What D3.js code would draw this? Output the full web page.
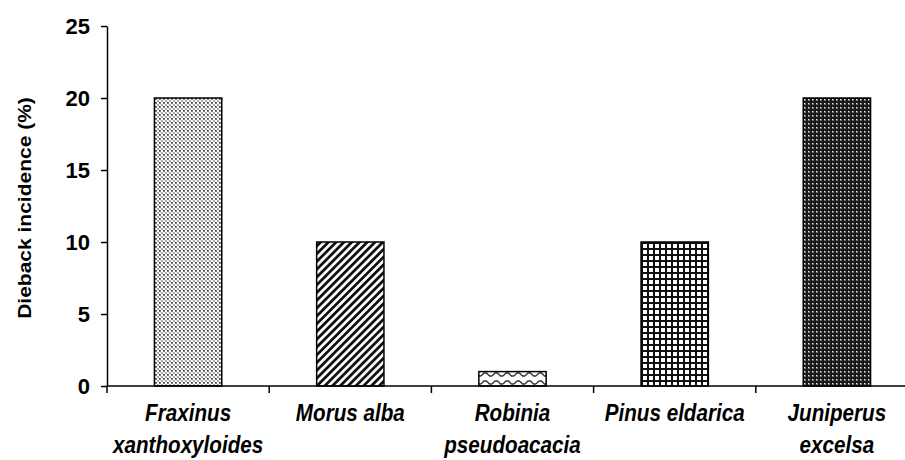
<!DOCTYPE html>
<html>
<head>
<meta charset="utf-8">
<script src="https://cdn.jsdelivr.net/npm/d3@7"></script>
<style>
  body { margin: 0; background: #fff; }
  svg text { font-family: "Liberation Sans", Arial, sans-serif; font-weight: bold; fill: #000; }
</style>
</head>
<body>
<svg id="chart" width="905" height="460"></svg>
<script>
// datos
var species = [
    ["Fraxinus", "xanthoxyloides"],
    ["Morus alba"],
    ["Robinia", "pseudoacacia"],
    ["Pinus eldarica"],
    ["Juniperus", "excelsa"]
];
var incidence = [20, 10, 1, 10, 20];
var yTicks = [0, 5, 10, 15, 20, 25];
var patternIds = ["p-dots", "p-diag", "p-wave", "p-grid", "p-dark"];

var margin = { top: 26, right: -13, bottom: 74, left: 107 };
var w = 905, h = 460;
var width = w - margin.left - margin.right;
var height = h - margin.top - margin.bottom;

var svg = d3.select('#chart');
var defs = svg.append('defs');

// patrones de relleno (tipo Excel)
var p1 = defs.append('pattern').attr('id', 'p-dots').attr('patternUnits', 'userSpaceOnUse').attr('width', 4).attr('height', 4);
p1.append('rect').attr('width', 4).attr('height', 4).attr('fill', '#fff');
p1.append('rect').attr('x', 0).attr('y', 0).attr('width', 2).attr('height', 2).attr('fill', '#7a7a7a');
p1.append('rect').attr('x', 2).attr('y', 2).attr('width', 2).attr('height', 2).attr('fill', '#aaa');
p1.append('rect').attr('x', 0).attr('y', 0).attr('width', 1).attr('height', 1).attr('fill', '#333');

var p2 = defs.append('pattern').attr('id', 'p-diag').attr('patternUnits', 'userSpaceOnUse').attr('width', 5.5).attr('height', 5.5)
    .attr('patternTransform', 'rotate(45)');
p2.append('rect').attr('width', 5.5).attr('height', 5.5).attr('fill', '#fff');
p2.append('rect').attr('x', 0).attr('width', 2.8).attr('height', 5.5).attr('fill', '#111');

var p3 = defs.append('pattern').attr('id', 'p-wave').attr('patternUnits', 'userSpaceOnUse').attr('width', 11).attr('height', 8);
p3.append('rect').attr('width', 11).attr('height', 8).attr('fill', '#fff');
p3.append('path').attr('d', 'M0,6 L3,3 L5.5,3 L8.5,6 L11,6').attr('fill', 'none').attr('stroke', '#333').attr('stroke-width', 1.3);

var p4 = defs.append('pattern').attr('id', 'p-grid').attr('patternUnits', 'userSpaceOnUse').attr('width', 6).attr('height', 6);
p4.append('rect').attr('width', 6).attr('height', 6).attr('fill', '#fff');
p4.append('rect').attr('x', 0).attr('width', 2).attr('height', 6).attr('fill', '#111');
p4.append('rect').attr('y', 0).attr('width', 6).attr('height', 2).attr('fill', '#111');

var p5 = defs.append('pattern').attr('id', 'p-dark').attr('patternUnits', 'userSpaceOnUse').attr('width', 4).attr('height', 4);
p5.append('rect').attr('width', 4).attr('height', 4).attr('fill', '#1a1a1a');
p5.append('rect').attr('x', 1).attr('y', 1).attr('width', 2).attr('height', 2).attr('fill', '#777');
p5.append('rect').attr('x', 1).attr('y', 1).attr('width', 1).attr('height', 1).attr('fill', '#eee');

var x = d3.scaleBand().domain(d3.range(species.length)).range([0, width]).paddingInner(0.585).paddingOuter(0.2925);
var y = d3.scaleLinear().domain([0, 25]).range([height, 0]);

var g = svg.append('g').attr('transform', 'translate(' + margin.left + ',' + margin.top + ')');

// barras
g.selectAll('.bar').data(incidence).enter().append('rect')
    .attr('class', 'bar')
    .attr('x', function (d, i) { return x(i); })
    .attr('y', function (d) { return y(d); })
    .attr('width', x.bandwidth())
    .attr('height', function (d) { return height - y(d); })
    .attr('fill', function (d, i) { return 'url(#' + patternIds[i] + ')'; })
    .attr('stroke', '#000')
    .attr('stroke-width', 1.5);

// eje Y
var axisY = d3.axisLeft(y).tickValues(yTicks).tickSizeInner(6).tickSizeOuter(0).tickPadding(11);
var gy = g.append('g').attr('class', 'axis axis-y').call(axisY);
gy.select('.domain').attr('stroke', '#000').attr('stroke-width', 1.5);
gy.selectAll('.tick line').attr('stroke', '#000').attr('stroke-width', 1.5);
gy.selectAll('.tick text').style('font-size', '22px').attr('dy', '0.36em');

// eje X: linea y marcas entre categorias
var gx = g.append('g').attr('class', 'axis axis-x').attr('transform', 'translate(0,' + height + ')');
gx.append('line').attr('x1', 0).attr('x2', width).attr('stroke', '#000').attr('stroke-width', 1.5);
var step = x.step();
gx.selectAll('.sep').data(d3.range(species.length + 1)).enter().append('line')
    .attr('x1', function (i) { return x(0) - x.paddingOuter() * step + i * step; })
    .attr('x2', function (i) { return x(0) - x.paddingOuter() * step + i * step; })
    .attr('y1', 0).attr('y2', 7)
    .attr('stroke', '#000').attr('stroke-width', 1.5);

var labels = gx.selectAll('.lbl').data(species).enter().append('text')
    .attr('class', 'lbl')
    .attr('text-anchor', 'middle')
    .attr('transform', function (d, i) { return 'translate(' + (x(i) + x.bandwidth() / 2) + ',35) scale(0.86,1)'; })
    .style('font-size', '24px')
    .style('font-style', 'italic');
labels.selectAll('tspan').data(function (d) { return d; }).enter().append('tspan')
    .attr('x', 0)
    .attr('y', function (d, i) { return i * 32; })
    .text(function (d) { return d; });

// titulo eje Y
svg.append('text')
    .attr('transform', 'translate(31,' + (margin.top + height / 2 + 2) + ') rotate(-90) scale(1,0.9)')
    .attr('text-anchor', 'middle')
    .style('font-size', '21px')
    .text('Dieback incidence (%)');
</script>
</body>
</html>
